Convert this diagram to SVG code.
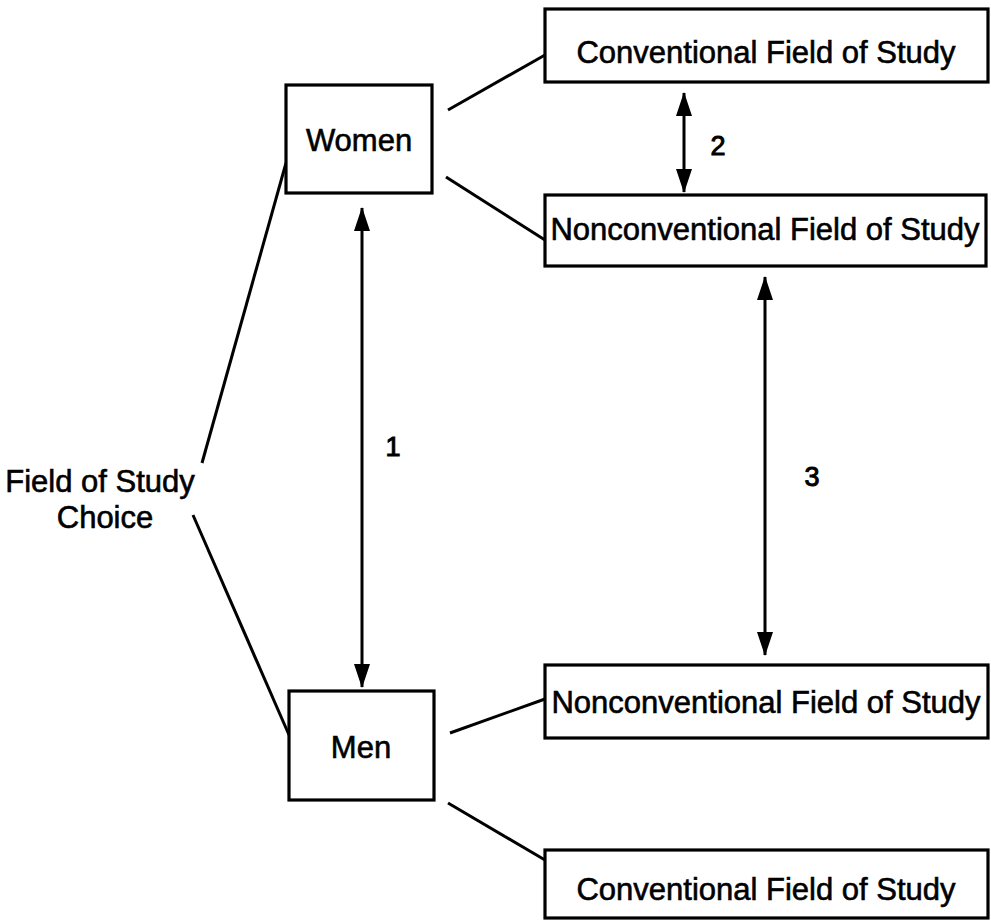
<svg xmlns="http://www.w3.org/2000/svg" width="991" height="921" viewBox="0 0 991 921">
  <style>
    .box { fill: #fff; stroke: #000; stroke-width: 3.2; }
    .lbl { font-family: "Liberation Sans", Arial, sans-serif; font-size: 31px; fill: #000; stroke: #000; stroke-width: 0.6; text-anchor: middle; }
    .num { font-family: "Liberation Sans", Arial, sans-serif; font-size: 27px; fill: #000; stroke: #000; stroke-width: 1; text-anchor: middle; }
    .ln { stroke: #000; stroke-width: 3; fill: none; }
    .arr { stroke: #000; stroke-width: 3; fill: none; marker-start: url(#ah); marker-end: url(#ah); }
  </style>
  <defs>
    <marker id="ah" markerUnits="userSpaceOnUse" markerWidth="24" markerHeight="16" refX="23" refY="8" orient="auto-start-reverse">
      <path d="M0,0 L24,8 L0,16 Z" fill="#000"/>
    </marker>
  </defs>
  <rect width="991" height="921" fill="#fff"/>

  <g id="connectors">
    <line class="ln" x1="202" y1="463" x2="286" y2="163"/>
    <line class="ln" x1="193" y1="515" x2="289" y2="735"/>
    <line class="ln" x1="448" y1="110" x2="545" y2="55"/>
    <line class="ln" x1="446" y1="177" x2="545" y2="240"/>
    <line class="ln" x1="450" y1="733" x2="545" y2="699"/>
    <line class="ln" x1="448" y1="803" x2="545" y2="860"/>
    <line class="arr" x1="362" y1="208" x2="362" y2="687"/>
    <line class="arr" x1="684" y1="93" x2="684" y2="192"/>
    <line class="arr" x1="765" y1="277" x2="765" y2="655"/>
    <text class="num" x="393" y="456">1</text>
    <text class="num" x="718" y="155">2</text>
    <text class="num" x="812" y="486">3</text>
  </g>

  <g id="field-of-study-choice">
    <text class="lbl" x="100" y="492">Field of Study</text>
    <text class="lbl" x="105" y="528">Choice</text>
  </g>

  <g id="women">
    <rect class="box" x="286" y="85" width="146" height="108"/>
    <text class="lbl" x="359" y="151">Women</text>
  </g>

  <g id="men">
    <rect class="box" x="289" y="691" width="145" height="109"/>
    <text class="lbl" x="361" y="758">Men</text>
  </g>

  <g id="women-conventional">
    <rect class="box" x="545" y="9" width="443" height="73"/>
    <text class="lbl" x="766" y="63">Conventional Field of Study</text>
  </g>

  <g id="women-nonconventional">
    <rect class="box" x="545" y="195" width="441" height="71"/>
    <text class="lbl" x="765" y="240">Nonconventional Field of Study</text>
  </g>

  <g id="men-nonconventional">
    <rect class="box" x="545" y="665" width="443" height="73"/>
    <text class="lbl" x="766" y="713">Nonconventional Field of Study</text>
  </g>

  <g id="men-conventional">
    <rect class="box" x="545" y="850" width="443" height="68"/>
    <text class="lbl" x="766" y="900">Conventional Field of Study</text>
  </g>
</svg>
